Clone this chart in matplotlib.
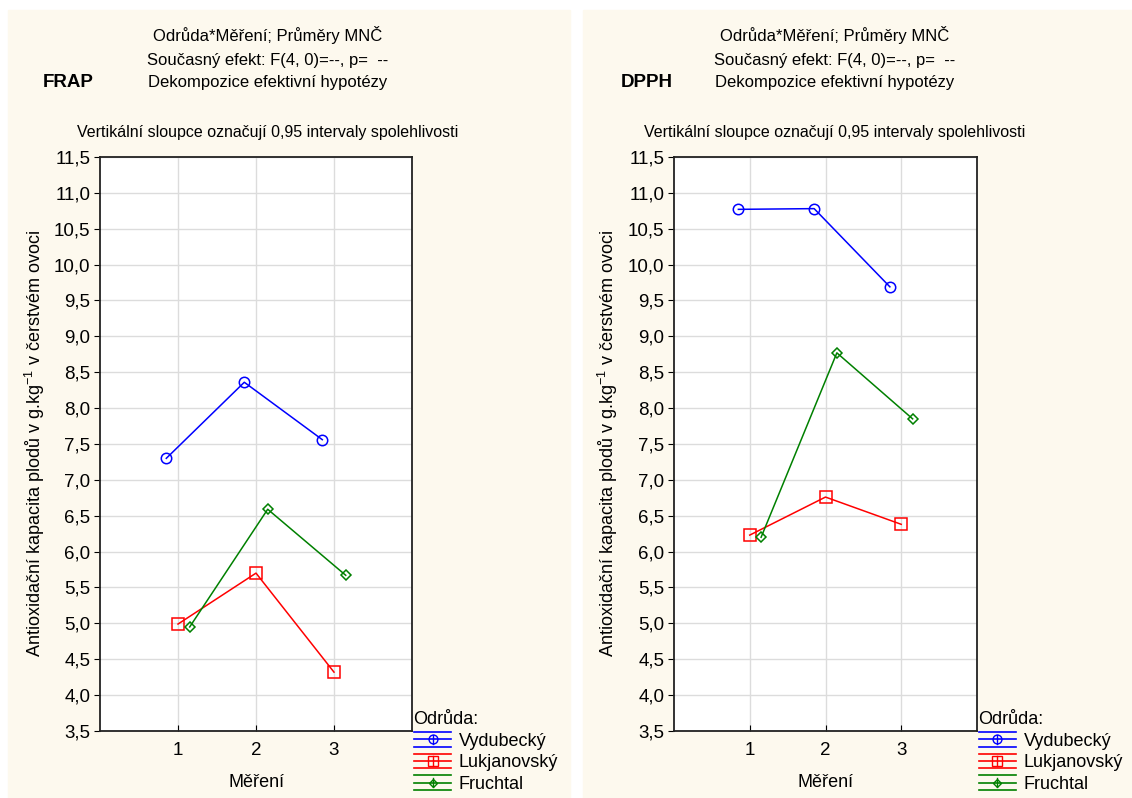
import matplotlib.pyplot as plt
from matplotlib.patches import Rectangle
from matplotlib.lines import Line2D
from matplotlib.legend_handler import HandlerBase

plt.rcParams['font.family'] = ['Liberation Sans', 'DejaVu Sans']
plt.rcParams['mathtext.fontset'] = 'custom'
plt.rcParams['mathtext.rm'] = 'Liberation Sans'
plt.rcParams['mathtext.default'] = 'regular'

# data
mereni = [1, 2, 3]
odrudy = ['Vydubecký', 'Lukjanovský', 'Fruchtal']
frap = {
    'Vydubecký': [7.30, 8.36, 7.56],
    'Lukjanovský': [4.99, 5.70, 4.32],
    'Fruchtal': [4.95, 6.59, 5.67],
}
dpph = {
    'Vydubecký': [10.77, 10.78, 9.69],
    'Lukjanovský': [6.23, 6.76, 6.38],
    'Fruchtal': [6.20, 8.77, 7.85],
}
y_ticks = [3.5, 4.0, 4.5, 5.0, 5.5, 6.0, 6.5, 7.0, 7.5, 8.0, 8.5, 9.0, 9.5, 10.0, 10.5, 11.0, 11.5]

colors = {'Vydubecký': '#0000ff', 'Lukjanovský': '#ff0000', 'Fruchtal': '#008000'}
markers = {'Vydubecký': ('o', 7.5), 'Lukjanovský': ('s', 8), 'Fruchtal': ('D', 5)}
offsets = {'Vydubecký': -0.15, 'Lukjanovský': 0.0, 'Fruchtal': 0.15}

cream = '#fdf9ee'


class ErrHandler(HandlerBase):
    # legend glyph like STATISTICA: three horizontal lines + marker
    def create_artists(self, legend, orig, xd, yd, w, h, fs, trans):
        c = orig.get_color()
        m = orig.get_marker()
        ms = orig.get_markersize()
        arts = []
        for fy in (0.0, 0.5, 1.0):
            y = -yd + h * (-0.05 + 1.1 * fy)
            arts.append(Line2D([-xd, -xd + w], [y, y], color=c, lw=1.2))
        cx = -xd + w / 2
        arts.append(Line2D([cx, cx], [-yd + h * 0.15, -yd + h * 0.85], color=c, lw=1))
        arts.append(Line2D([cx], [-yd + h / 2], marker=m, markersize=ms * 0.85, color=c,
                           markerfacecolor='none', lw=0))
        for a in arts:
            a.set_transform(trans)
        return arts


fig = plt.figure(figsize=(11.32, 7.98), dpi=100, facecolor='white')
fig.patches.append(Rectangle((8 / 1132, 0), (570 - 8) / 1132, 1 - 10 / 798,
                             transform=fig.transFigure, color=cream, zorder=-5))
fig.patches.append(Rectangle((583 / 1132, 0), (1132 - 583) / 1132, 1 - 10 / 798,
                             transform=fig.transFigure, color=cream, zorder=-5))

panels = [
    ('FRAP', frap, [100 / 1132, 0.084, 312 / 1132, 0.7193], 0.236, 0.060, 0.031),
    ('DPPH', dpph, [674 / 1132, 0.084, 303 / 1132, 0.7193], 0.737, 0.571, 0.537),
]

for name, data, rect, cx, nx, ylx in panels:
    ax = fig.add_axes(rect)
    ax.set_facecolor('white')
    handles = []
    for od in odrudy:
        xs = [x + offsets[od] for x in mereni]
        m, ms = markers[od]
        ln, = ax.plot(xs, data[od], color=colors[od], lw=1.1, marker=m, markersize=ms,
                      markerfacecolor='none', markeredgewidth=1.1, zorder=3)
        handles.append(ln)
    ax.set_xlim(0, 4)
    ax.set_ylim(3.5, 11.5)
    ax.set_xticks(mereni)
    ax.set_yticks(y_ticks)
    ax.set_yticklabels([f'{v:.1f}'.replace('.', ',') for v in y_ticks])
    ax.grid(True, color='#dcdcdc', lw=1)
    ax.set_axisbelow(True)
    ax.tick_params(axis='y', direction='out', length=4, labelsize=13.5, pad=3)
    ax.tick_params(axis='x', direction='in', length=4, labelsize=13.5, pad=8)
    for s in ax.spines.values():
        s.set_linewidth(1.3)
        s.set_color('#222222')
    ax.set_xlabel('Měření', fontsize=13, labelpad=11)
    fig.text(ylx, 0.444, 'Antioxidační kapacita plodů v g.kg$^{-1}$ v čerstvém ovoci',
             rotation=90, ha='center', va='center', fontsize=13)

    leg = ax.legend(handles, odrudy, title='Odrůda:', loc='upper left',
                    bbox_to_anchor=(1.005, 0.035), frameon=False, alignment='left',
                    fontsize=13, title_fontsize=13, handlelength=2.1, handleheight=0.75,
                    handletextpad=0.4, labelspacing=0.26, borderaxespad=0, borderpad=0,
                    handler_map={Line2D: ErrHandler()})
    leg.set_clip_on(False)

    fig.text(cx, 0.956, 'Odrůda*Měření; Průměry MNČ', ha='center', va='center', fontsize=12)
    fig.text(cx, 0.924, 'Současný efekt: F(4, 0)=--, p=  --', ha='center', va='center', fontsize=12)
    fig.text(cx, 0.897, 'Dekompozice efektivní hypotézy', ha='center', va='center', fontsize=12)
    fig.text(nx, 0.897, name, ha='center', va='center', fontsize=13.5, fontweight='bold')
    fig.text(cx, 0.834, 'Vertikální sloupce označují 0,95 intervaly spolehlivosti',
             ha='center', va='center', fontsize=11.5)

fig.savefig('out.png', dpi=100, facecolor=fig.get_facecolor())
